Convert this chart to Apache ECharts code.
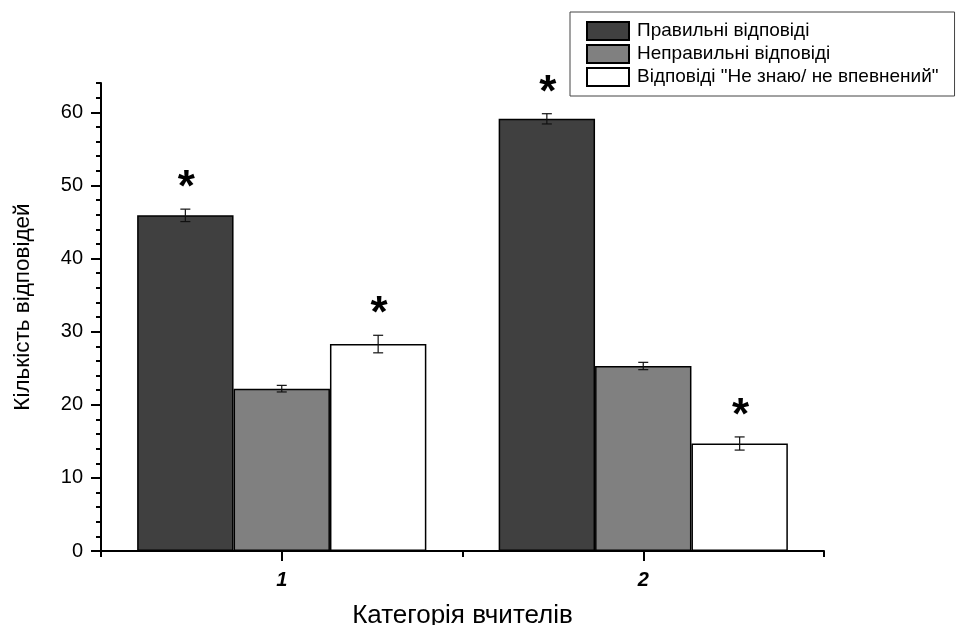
<!DOCTYPE html>
<html>
<head>
<meta charset="utf-8">
<script src="https://cdn.jsdelivr.net/npm/echarts@6/dist/echarts.min.js"></script>
<style>
html,body{margin:0;padding:0;background:#fff;}
#chart{width:958px;height:625px;}
</style>
</head>
<body>
<div id="chart"></div>
<script>
// ---- data ----
const categories = ['1', '2'];
const seriesNames = ['Правильні відповіді', 'Неправильні відповіді', 'Відповіді "Не знаю/ не впевнений"'];
const correct = [45.9, 59.1];
const correctErr = [0.85, 0.7];
const correctSig = [true, true];
const incorrect = [22.2, 25.3];
const incorrectErr = [0.45, 0.5];
const incorrectSig = [false, false];
const unsure = [28.3, 14.7];
const unsureErr = [1.2, 0.9];
const unsureSig = [true, true];
const yTicks = [0, 10, 20, 30, 40, 50, 60];

const values = [correct, incorrect, unsure];
const errors = [correctErr, incorrectErr, unsureErr];
const sigs = [correctSig, incorrectSig, unsureSig];
const colors = ['#404040', '#808080', '#ffffff'];

const FONT = '"Liberation Sans", Arial, sans-serif';
const nSeries = values.length;
const catGap = 0.2;

function errRender(seriesIdx) {
  return function (params, api) {
    const cat = api.value(0);
    const v = api.value(1);
    const e = api.value(2);
    const sig = api.value(3);
    const band = api.size([1, 0])[0];
    const barW = band * (1 - catGap) / nSeries;
    const cx = api.coord([cat, v])[0] - band * (1 - catGap) / 2 + (seriesIdx + 0.5) * barW;
    const yHi = api.coord([cat, v + e])[1];
    const yLo = api.coord([cat, v - e])[1];
    const cap = 5;
    const st = { stroke: '#111', lineWidth: 1.2 };
    const children = [
      { type: 'line', shape: { x1: cx, y1: yHi, x2: cx, y2: yLo }, style: st },
      { type: 'line', shape: { x1: cx - cap, y1: yHi, x2: cx + cap, y2: yHi }, style: st },
      { type: 'line', shape: { x1: cx - cap, y1: yLo, x2: cx + cap, y2: yLo }, style: st }
    ];
    if (sig) {
      children.push({
        type: 'text',
        style: {
          text: '*', x: cx + 1, y: yHi - 20,
          align: 'center', verticalAlign: 'middle',
          font: 'bold 44px ' + FONT, fill: '#000'
        }
      });
    }
    return { type: 'group', children: children };
  };
}

const series = [];
for (let i = 0; i < nSeries; i++) {
  series.push({
    name: seriesNames[i],
    type: 'bar',
    data: values[i],
    barGap: '0%',
    barCategoryGap: '20%',
    itemStyle: { color: colors[i], borderColor: '#000', borderWidth: 1.5 },
    emphasis: { disabled: true },
    z: 2
  });
}
for (let i = 0; i < nSeries; i++) {
  series.push({
    type: 'custom',
    renderItem: errRender(i),
    encode: { x: 0, y: 1 },
    data: categories.map((c, j) => [j, values[i][j], errors[i][j], sigs[i][j] ? 1 : 0]),
    z: 5,
    silent: true,
    clip: false
  });
}

const chart = echarts.init(document.getElementById('chart'));
chart.setOption({
  animation: false,
  backgroundColor: '#fff',
  grid: { left: 101, right: 134, top: 83, bottom: 74, containLabel: false, outerBoundsMode: 'none' },
  legend: {
    data: seriesNames,
    orient: 'vertical',
    left: 570, top: 12,
    padding: [9, 16, 9, 16],
    itemWidth: 42, itemHeight: 18, itemGap: 3,
    icon: 'rect',
    borderColor: '#444', borderWidth: 1,
    textStyle: { fontFamily: FONT, fontSize: 19, color: '#000', padding: [0, 0, 0, 3] },
    selectedMode: false
  },
  xAxis: [
    {
      type: 'category', data: categories,
      axisLine: { lineStyle: { color: '#000', width: 2 } },
      axisTick: { show: true, alignWithLabel: false, length: 6, lineStyle: { color: '#000', width: 2 } },
      axisLabel: { fontFamily: FONT, fontSize: 20, fontWeight: 'bold', fontStyle: 'italic', color: '#000', margin: 19 },
      name: 'Категорія вчителів', nameLocation: 'middle', nameGap: 52,
      nameTextStyle: { fontFamily: FONT, fontSize: 26, color: '#000' },
      splitLine: { show: false }
    },
    {
      type: 'category', data: categories, position: 'bottom', offset: 0,
      axisLine: { show: false },
      axisTick: { show: true, alignWithLabel: true, length: 10, lineStyle: { color: '#000', width: 2 } },
      axisLabel: { show: false },
      splitLine: { show: false }
    }
  ],
  yAxis: [
    {
      type: 'value', min: 0, max: 64, interval: 10,
      axisLine: { show: true, lineStyle: { color: '#000', width: 2 } },
      axisTick: { show: true, length: 10, customValues: yTicks, lineStyle: { color: '#000', width: 2 } },
      axisLabel: { customValues: yTicks, fontFamily: FONT, fontSize: 20, color: '#000', margin: 18 },
      splitLine: { show: false },
      name: 'Кількість відповідей', nameLocation: 'middle', nameGap: 67, nameRotate: 90,
      nameTextStyle: { fontFamily: FONT, fontSize: 22.5, color: '#000', padding: [0, 0, 0, 20] }
    },
    {
      type: 'value', min: 0, max: 64, interval: 2, position: 'left', offset: 0,
      axisLine: { show: false },
      axisTick: { show: true, length: 5, lineStyle: { color: '#000', width: 2 } },
      axisLabel: { show: false },
      splitLine: { show: false }
    }
  ],
  series: series
});
</script>
</body>
</html>
